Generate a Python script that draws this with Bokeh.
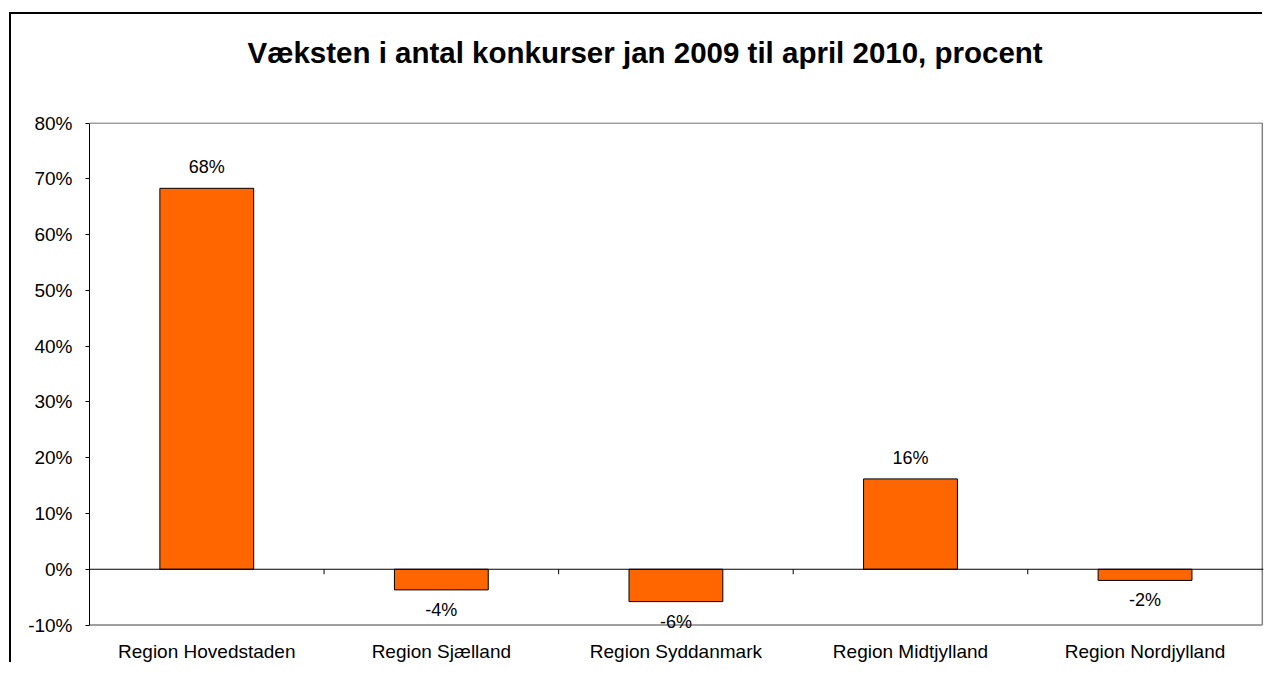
import math
from bokeh.plotting import figure
from bokeh.models import (ColumnDataSource, FixedTicker, PrintfTickFormatter, Span, Title, LabelSet)
from bokeh.core.properties import value
from bokeh.embed import file_html
from bokeh.resources import INLINE

# ---- data ----
categories = ["Region Hovedstaden", "Region Sjælland", "Region Syddanmark",
              "Region Midtjylland", "Region Nordjylland"]
growth_pct = [68.3, -3.7, -5.8, 16.2, -2.0]
y_ticks = [-10, 0, 10, 20, 30, 40, 50, 60, 70, 80]
title_text = "Væksten i antal konkurser jan 2009 til april 2010, procent"

FONT = "Liberation Sans"
n = len(categories)
centers = [i + 0.5 for i in range(n)]
bounds = list(range(1, n))
y_lo, y_hi = y_ticks[0], y_ticks[-1]

MB_L, MB_R, MB_T, MB_B = 78, 1, 108, 34
W, H = 1253, 650
p = figure(width=W, height=H, x_range=(0, n + 0.005), y_range=(y_lo - 0.8, y_hi + 0.1),
           output_backend="svg", toolbar_location=None,
           min_border_left=MB_L, min_border_right=MB_R, min_border_top=MB_T, min_border_bottom=MB_B)
p.margin = (14, 0, 0, 11)
p.styles = {"box-shadow": "-2px -2px 0px 0px black"}

p.background_fill_color = "white"
p.border_fill_color = "white"
p.outline_line_color = None
p.xgrid.grid_line_color = None
p.ygrid.grid_line_color = None

# title (spacer panel between frame and title keeps title near the top)
spacer = Title(text=" ", text_font_size="1px", standoff=27)
main_title = Title(text=title_text, align="left", offset=158, standoff=43, vertical_align="top",
                   text_font=FONT, text_font_size="29.5px", text_font_style="bold",
                   text_color="black")
p.add_layout(spacer, "above")
p.add_layout(main_title, "above")

# y axis
p.yaxis.ticker = FixedTicker(ticks=y_ticks)
p.yaxis.formatter = PrintfTickFormatter(format="%d%%")
p.yaxis.bounds = (y_lo, y_hi)
p.yaxis.axis_line_color = "black"
p.yaxis.major_tick_line_color = "black"
p.yaxis.major_tick_out = 4
p.yaxis.major_tick_in = 0
p.yaxis.minor_tick_line_color = None
p.yaxis.major_label_text_font = FONT
p.yaxis.major_label_text_font_size = "19px"
p.yaxis.major_label_text_color = "black"
p.yaxis.major_label_standoff = 13

# x axis (labels only)
p.xaxis.ticker = FixedTicker(ticks=centers)
p.xaxis.major_label_overrides = {c: lab for c, lab in zip(centers, categories)}
p.xaxis.axis_line_color = None
p.xaxis.major_tick_line_color = None
p.xaxis.minor_tick_line_color = None
p.xaxis.major_label_text_font = FONT
p.xaxis.major_label_text_font_size = "19px"
p.xaxis.major_label_text_color = "black"
p.xaxis.major_label_standoff = 5

# plot-area border (top, right, bottom) in grey
p.segment(x0=[0, n, 0], y0=[y_hi, y_lo, y_lo], x1=[n, n, n], y1=[y_hi, y_hi, y_lo],
          line_color="#808080", line_width=1.5)

# bars
src = ColumnDataSource(dict(
    x=centers, top=growth_pct,
    label=[f"{round(v)}%" for v in growth_pct],
    yoff=[15 if v >= 0 else -26 for v in growth_pct],
))
p.vbar(x="x", top="top", bottom=0, width=0.4, source=src,
       fill_color="#FF6600", line_color="black", line_width=1)

# zero line and category boundary ticks
p.add_layout(Span(location=0, dimension="width", line_color="black", line_width=1))
p.ray(x=bounds, y=[0] * len(bounds), length=5, length_units="screen",
      angle=-math.pi / 2, line_color="black", line_width=1)

# data labels
labels = LabelSet(x="x", y="top", text="label", y_offset="yoff", source=src,
                  text_align="center", text_baseline="alphabetic",
                  text_font=value(FONT), text_font_size=value("18px"), text_color="black")
p.add_layout(labels)

open("out.html", "w").write(file_html(p, INLINE))
